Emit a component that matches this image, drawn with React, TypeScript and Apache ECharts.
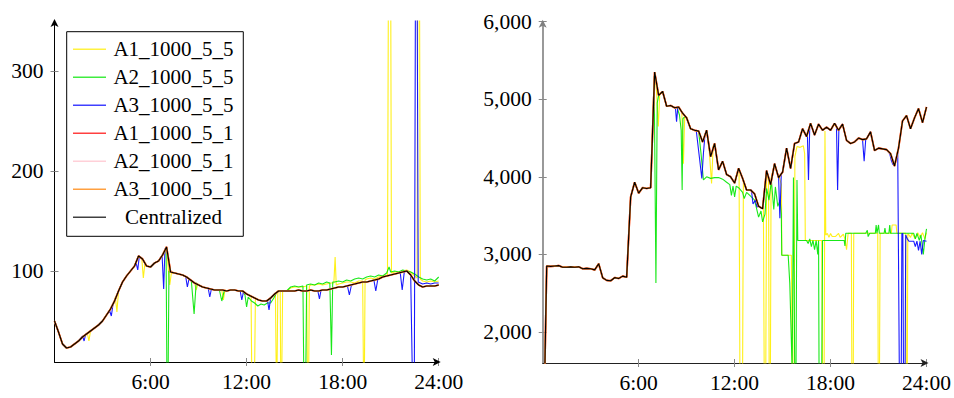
import React, { useEffect, useRef } from "react";
import * as echarts from "echarts";

const SERIES_NAMES = ["A1_1000_5_5", "A2_1000_5_5", "A3_1000_5_5", "A1_1000_5_1", "A2_1000_5_1", "A3_1000_5_1", "Centralized"];
const SERIES_COLORS = ["#ffee00", "#00e600", "#0000ff", "#ff0000", "#ffc0cb", "#ff8000", "#000000"];
const X_TICKS = [6, 12, 18, 24];
const LEFT_Y_TICKS = [100, 200, 300];
const RIGHT_Y_TICKS = [2000, 3000, 4000, 5000, 6000];
const STEP_HOURS = 0.25;

// Left panel: centralized (and *_5_1 runs, which coincide), 15-min samples
const leftCentral = [
  50, 39, 27, 23, 24, 27, 30, 34,
  37, 40, 43, 46, 50, 56, 62, 70,
  80, 89, 95, 100, 105, 115, 112, 105,
  104, 108, 110, 116, 124, 99, 98, 97,
  96, 94, 91, 88, 86, 84, 83, 82,
  81, 81, 81, 80, 81, 81, 80, 80,
  77, 75, 73, 71, 70, 70, 73, 77,
  80, 80, 80, 80, 80, 81, 80, 80,
  81, 80, 80, 81, 81, 82, 83, 84,
  84, 85, 86, 87, 88, 89, 89, 90,
  91, 92, 94, 95, 96, 97, 98, 99,
  100, 96, 90, 86, 84, 85, 85, 85,
  86,
];

// Deviations of the *_5_5 runs from the centralized curve: [hour, value]
const leftA1Episodes = [
  [[2.05, 38], [2.15, 30], [2.25, 40]],
  [[3.8, 74], [3.9, 59], [4.0, 80]],
  [[5.45, 113], [5.55, 93], [5.65, 108]],
  [[7.1, 104], [7.2, 86], [7.3, 98]],
  [[8.75, 88], [8.85, 81], [8.95, 87]],
  [[10.45, 81], [10.55, 71], [10.65, 81]],
  [[12.28, 74], [12.32, 0], [12.5, 0], [12.55, 73]],
  [[13.8, 77], [13.85, 0], [13.9, 0], [13.95, 79], [14.1, 80], [14.13, 0], [14.2, 0], [14.25, 80]],
  [[14.5, 80], [14.75, 83], [15.0, 84], [15.25, 84], [15.5, 84], [15.75, 85], [15.8, 0], [15.88, 0], [15.92, 85],
   [16.0, 86], [16.25, 86], [16.5, 87], [16.75, 86], [17.0, 87], [17.25, 88], [17.45, 88], [17.53, 114], [17.6, 86],
   [17.75, 87], [18.0, 88], [18.25, 89], [18.5, 89], [18.75, 88], [19.0, 90], [19.25, 90], [19.3, 0], [19.36, 0],
   [19.4, 91], [19.5, 92], [19.75, 93], [20.0, 92], [20.25, 94], [20.5, 95], [20.8, 96], [20.86, 400], [21.0, 400],
   [21.05, 98], [21.25, 99], [21.5, 99], [21.75, 100], [22.0, 101], [22.25, 99], [22.5, 95], [22.65, 93], [22.7, 400],
   [22.8, 400], [22.85, 92], [23.0, 90], [23.25, 89], [23.5, 90], [23.75, 89], [24.0, 90]],
];
const leftA2Episodes = [
  [[6.97, 122], [7.02, 0], [7.1, 0], [7.15, 100]],
  [[8.55, 90], [8.72, 57], [8.85, 88]],
  [[10.3, 81], [10.45, 70], [10.6, 80]],
  [[11.75, 80], [11.9, 76], [12.0, 64], [12.1, 74], [12.3, 70], [12.5, 68], [12.7, 65], [12.9, 67], [13.1, 66],
   [13.3, 68], [13.5, 68], [13.7, 73], [13.9, 79], [14.0, 80]],
  [[14.5, 80], [14.75, 84], [15.0, 85], [15.25, 84], [15.52, 85], [15.57, 0], [15.7, 0], [15.75, 86], [16.0, 87],
   [16.25, 86], [16.5, 88], [16.75, 87], [17.0, 89], [17.2, 88], [17.3, 16], [17.38, 89], [17.5, 89], [17.75, 90],
   [18.0, 89], [18.25, 91], [18.5, 90], [18.75, 92], [19.0, 93], [19.25, 92], [19.5, 94], [19.75, 95], [20.0, 94],
   [20.25, 96], [20.5, 95], [20.75, 98], [20.9, 104], [21.0, 99], [21.25, 100], [21.5, 99], [21.75, 101], [22.0, 100],
   [22.25, 99], [22.5, 97], [22.75, 94], [23.0, 92], [23.25, 91], [23.5, 92], [23.75, 90], [24.0, 94]],
];
const leftA3Episodes = [
  [[1.75, 35], [1.85, 30], [1.95, 37]],
  [[3.45, 60], [3.55, 55], [3.65, 66]],
  [[5.1, 108], [5.2, 101], [5.3, 115]],
  [[6.72, 116], [6.82, 82], [6.9, 122]],
  [[8.2, 94], [8.3, 84], [8.4, 92]],
  [[9.6, 83], [9.7, 74], [9.8, 82]],
  [[11.6, 80], [11.7, 71], [11.8, 79]],
  [[13.3, 71], [13.4, 61], [13.5, 73]],
  [[16.45, 80], [16.55, 72], [16.65, 81]],
  [[18.3, 85], [18.42, 76], [18.55, 86]],
  [[19.95, 91], [20.07, 80], [20.2, 92]],
  [[21.6, 98], [21.72, 81], [21.85, 99]],
  [[22.25, 96], [22.35, 0], [22.48, 0], [22.55, 400], [22.65, 400], [22.72, 89], [23.0, 87], [23.25, 88],
   [23.5, 87], [23.75, 88], [24.0, 88]],
];

// Right panel
const rightCentral = [
  0, 2850, 2845, 2850, 2855, 2835, 2835, 2840,
  2835, 2840, 2815, 2820, 2815, 2800, 2880, 2700,
  2665, 2660, 2700, 2690, 2720, 2705, 3740, 3930,
  3790, 3860, 3850, 3860, 5350, 5050, 5100, 4910,
  4920, 4890, 4900, 4820, 4760, 4620, 4600, 4590,
  4450, 4600, 4260, 4430, 4090, 4200, 4030, 4000,
  3920, 4110, 3980, 3830, 3830, 3780, 3620, 3590,
  4080, 3900, 4170, 3990, 4060, 4370, 4110, 4430,
  4450, 4620, 4520, 4690, 4540, 4680, 4600, 4640,
  4600, 4690, 4600, 4680, 4470, 4430, 4450, 4500,
  4480, 4490, 4580, 4340, 4370, 4360, 4350, 4300,
  4140, 4370, 4720, 4790, 4620, 4760, 4880, 4700,
  4900,
];
const rightA1Episodes = [
  [[7.12, 5100], [7.23, 4650], [7.32, 5080]],
  [[8.7, 4830], [8.8, 4170], [8.88, 4790]],
  [[10.4, 4380], [10.56, 3915], [10.66, 4400]],
  [[12.28, 4060], [12.33, 1500], [12.5, 1500], [12.55, 3960]],
  [[13.8, 3600], [13.85, 1500], [13.95, 1500], [14.0, 4050], [14.12, 3950], [14.16, 1500], [14.24, 1500], [14.28, 3980]],
  [[14.8, 3990], [14.93, 3900], [14.95, 2990], [15.55, 2990], [15.6, 1500], [15.72, 1500], [15.77, 4260], [15.9, 4390],
   [16.1, 4380], [16.3, 4400], [16.38, 4300], [16.42, 3180], [17.0, 3180], [17.45, 3180], [17.5, 1500], [17.6, 1500],
   [17.65, 4590], [17.7, 3250], [17.8, 3270], [17.9, 3220], [18.0, 3270], [18.1, 3230], [18.3, 3230], [18.5, 3270],
   [18.6, 3220], [18.8, 3260], [18.9, 3200], [19.0, 3060], [19.1, 3272], [19.3, 3272], [19.33, 1500], [19.42, 1500],
   [19.45, 3272], [20.95, 3272], [20.98, 1500], [21.06, 1500], [21.1, 3272], [21.8, 3272], [21.85, 3380], [22.1, 3380],
   [22.15, 3272], [22.7, 3272], [22.73, 1500], [22.8, 1500], [22.83, 3272], [23.0, 3220], [23.1, 3272], [23.3, 3200],
   [23.45, 3280], [23.6, 3220], [23.75, 3280], [23.9, 3200], [24.0, 3280]],
];
const rightA2Episodes = [
  [[6.97, 5300], [7.08, 2630], [7.16, 4950]],
  [[8.4, 4890], [8.55, 4800], [8.66, 4600], [8.72, 3830], [8.77, 4750], [8.9, 4780]],
  [[9.75, 4590], [9.9, 4300], [10.05, 3960], [10.25, 4000], [10.5, 3980], [10.75, 3990], [11.0, 3990], [11.25, 3970],
   [11.5, 3930], [11.7, 3900], [11.8, 3760], [11.9, 3880], [12.0, 3740], [12.1, 3880], [12.25, 3860], [12.5, 3800],
   [12.6, 3720], [12.75, 3800], [13.0, 3750], [13.25, 3700], [13.5, 3480], [13.65, 3560], [13.75, 3420], [13.9, 3520],
   [14.0, 3850], [14.15, 3700], [14.3, 3950], [14.45, 3580], [14.55, 3870], [14.7, 3620], [14.85, 3700], [14.92, 3520],
   [14.95, 2990], [15.35, 2990], [15.45, 2630], [15.6, 1500], [15.68, 3990], [15.76, 1500], [15.84, 1500], [15.9, 3960],
   [15.95, 3180], [16.5, 3180], [16.6, 3140], [16.7, 3200], [16.8, 3100], [16.9, 3180], [17.0, 3060], [17.1, 3180],
   [17.2, 3000], [17.25, 3180], [17.28, 1500], [17.45, 1500], [17.5, 3180], [18.85, 3180], [18.9, 3110], [18.95, 3272],
   [20.2, 3272], [20.3, 3310], [20.35, 3230], [20.45, 3272], [20.8, 3272], [20.85, 3380], [20.9, 3272], [21.0, 3380],
   [21.05, 3272], [21.35, 3272], [21.4, 3340], [21.45, 3272], [21.65, 3272], [21.7, 3380], [21.75, 3272], [23.2, 3272],
   [23.3, 3200], [23.4, 3272], [23.55, 3180], [23.65, 3250], [23.8, 3000], [23.9, 3200], [24.0, 3330]],
];
const rightA3Episodes = [
  [[8.3, 4890], [8.37, 4710], [8.45, 4900]],
  [[9.6, 4600], [9.8, 4250], [9.95, 3980], [10.05, 4300], [10.15, 4550]],
  [[13.05, 3830], [13.15, 3650], [13.3, 3700], [13.4, 3610], [13.5, 3620]],
  [[14.75, 4000], [14.83, 3465], [14.92, 4050]],
  [[16.55, 4560], [16.62, 3960], [16.7, 4660]],
  [[18.37, 4660], [18.44, 3830], [18.52, 4620]],
  [[20.0, 4480], [20.1, 4200], [20.2, 4485]],
  [[21.7, 4300], [21.8, 4210], [21.9, 4160]],
  [[22.2, 4320], [22.3, 1500], [22.42, 1500], [22.46, 3270], [22.52, 3270], [22.56, 1500], [22.66, 1500], [22.7, 3250],
   [22.8, 3200], [22.9, 3170], [23.1, 3170], [23.2, 3170], [23.3, 3100], [23.4, 3170], [23.5, 3050], [23.6, 3170],
   [23.7, 3000], [23.8, 3180], [24.0, 3170]],
];

const FONT = "'Liberation Serif', 'Times New Roman', serif";

function toPoints(values: number[]) {
  return values.map((v, i) => [i * STEP_HOURS, v]);
}
function mergeEpisodes(values: number[], episodes: number[][][]) {
  const inEp = (t: number) => episodes.some((ep) => t >= ep[0][0] && t <= ep[ep.length - 1][0]);
  const pts = toPoints(values).filter((p) => !inEp(p[0]));
  episodes.forEach((ep) => ep.forEach((p) => pts.push([p[0], p[1]])));
  pts.sort((a, b) => a[0] - b[0]);
  return pts;
}

const LINE_WIDTHS = [1.1, 1.1, 1.1, 1.7, 1.7, 1.7, 1.15];
const LINE_OPACITY = [0.9, 0.9, 0.9, 1, 1, 0.85, 1];

function panelSeries(central: number[], a1: number[][][], a2: number[][][], a3: number[][][], axisIdx: number) {
  const datas = [
    mergeEpisodes(central, a1),
    mergeEpisodes(central, a2),
    mergeEpisodes(central, a3),
    toPoints(central),
    toPoints(central),
    toPoints(central),
    toPoints(central),
  ];
  return datas.map((d, i) => ({
    name: SERIES_NAMES[i],
    type: "line",
    xAxisIndex: axisIdx,
    yAxisIndex: axisIdx,
    data: d,
    symbol: "none",
    showSymbol: false,
    clip: true,
    silent: true,
    color: SERIES_COLORS[i],
    itemStyle: { color: SERIES_COLORS[i] },
    lineStyle: { color: SERIES_COLORS[i], width: LINE_WIDTHS[i], opacity: LINE_OPACITY[i] },
    emphasis: { disabled: true },
  }));
}

function xAxes(gridIndex: number, lineColor: string) {
  return [
    {
      type: "value", gridIndex, min: 0, max: 24, interval: 6, position: "bottom",
      axisLine: { show: true, onZero: false, lineStyle: { color: lineColor, width: 1 }, symbol: ["none", "arrow"], symbolSize: [6, 8], symbolOffset: [0, 2] },
      axisTick: { show: true, inside: false, length: 4, customValues: X_TICKS, lineStyle: { color: "#888" } },
      axisLabel: { show: true, customValues: X_TICKS, margin: 9, color: "#000", fontFamily: FONT, fontSize: 21.5, formatter: (v: number) => (v === 0 ? "" : `${v}:00`) },
      splitLine: { show: false },
    },
    {
      type: "value", gridIndex, min: 0, max: 24, interval: 6, position: "bottom",
      axisLine: { show: false, onZero: false },
      axisTick: { show: true, inside: true, length: 4, customValues: X_TICKS, lineStyle: { color: "#888" } },
      axisLabel: { show: false },
      splitLine: { show: false },
    },
  ];
}

function yAxes(gridIndex: number, min: number, max: number, ticks: number[], lineColor: string, lineWidth: number, fmt: (v: number) => string) {
  return [
    {
      type: "value", gridIndex, min, max, position: "left",
      axisLine: { show: true, onZero: false, lineStyle: { color: lineColor, width: lineWidth }, symbol: ["none", "arrow"], symbolSize: [6, 8], symbolOffset: [0, 2] },
      axisTick: { show: true, inside: false, length: 4, customValues: ticks, lineStyle: { color: "#888" } },
      axisLabel: { show: true, customValues: ticks, margin: 11, color: "#000", fontFamily: FONT, fontSize: 21.5, formatter: fmt },
      splitLine: { show: false },
    },
    {
      type: "value", gridIndex, min, max, position: "left",
      axisLine: { show: false, onZero: false },
      axisTick: { show: true, inside: true, length: 4, customValues: ticks, lineStyle: { color: "#888" } },
      axisLabel: { show: false },
      splitLine: { show: false },
    },
  ];
}

export default function App() {
  const ref = useRef<HTMLDivElement>(null);
  useEffect(() => {
    if (!ref.current) return;
    const chart = echarts.init(ref.current, undefined, { renderer: "svg" });
    const option = {
      animation: false,
      backgroundColor: "#fff",
      grid: [
        { left: 54.5, top: 21, width: 384.2, height: 341, containLabel: false },
        { left: 542.7, top: 21.7, width: 384, height: 341.3, containLabel: false },
      ],
      legend: {
        data: SERIES_NAMES,
        orient: "vertical",
        left: 66.7,
        top: 31.7,
        padding: [7.1, 9.7, 8.5, 6.3],
        itemGap: 7,
        itemWidth: 33,
        itemHeight: 1.6,
        icon: "rect",
        borderColor: "#000",
        borderWidth: 1,
        backgroundColor: "#fff",
        selectedMode: false,
        itemStyle: { opacity: 0.75, borderWidth: 0 },
        formatter: (name: string) => `{c|${name}}`,
        textStyle: {
          fontFamily: FONT,
          fontSize: 21,
          color: "#000",
          rich: { c: { width: 125, align: "center", fontFamily: FONT, fontSize: 21, color: "#000" } },
        },
      },
      xAxis: [...xAxes(0, "#000"), ...xAxes(1, "#222")],
      yAxis: [
        ...yAxes(0, 9, 350, LEFT_Y_TICKS, "#000", 1, (v: number) => `${v}`),
        ...yAxes(1, 1600, 6000, RIGHT_Y_TICKS, "#808080", 1.6, (v: number) => v.toLocaleString("en-US")),
      ],
      series: [
        ...panelSeries(leftCentral, leftA1Episodes, leftA2Episodes, leftA3Episodes, 0),
        ...panelSeries(rightCentral, rightA1Episodes, rightA2Episodes, rightA3Episodes, 2),
      ],
    };
    chart.setOption(option as any);
    return () => chart.dispose();
  }, []);
  return <div ref={ref} style={{ position: "fixed", left: 0, top: 0, width: 954, height: 398, background: "#fff" }} />;
}
